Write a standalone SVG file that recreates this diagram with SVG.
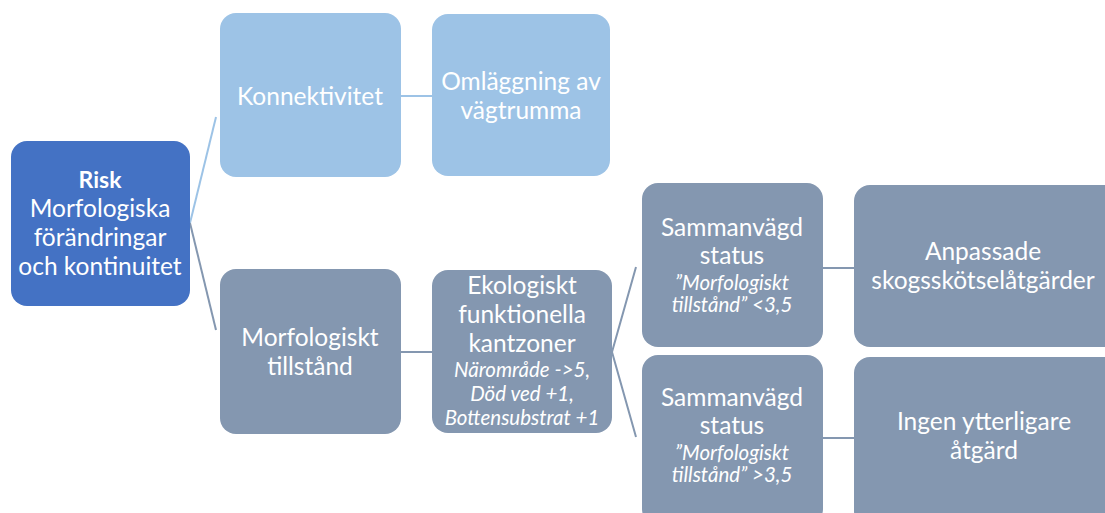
<svg xmlns="http://www.w3.org/2000/svg" width="1105" height="513" viewBox="0 0 1105 513">
<style>
.t{font-family:Lato,"Open Sans","Liberation Sans",sans-serif;fill:#fff;text-anchor:middle;font-size:24.5px}
.i{font-style:italic;font-size:20.5px}
.b{font-weight:bold}
.dark{fill:#4472C4}
.light{fill:#9DC3E6}
.gray{fill:#8497B0}
.cl{stroke:#9DC3E6;stroke-width:2;fill:none}
.cg{stroke:#8497B0;stroke-width:2;fill:none}
</style>
<rect width="1105" height="513" fill="#fff"/>
<g id="connectors">
<polyline class="cl" points="216,117 190,223"/>
<polyline class="cg" points="190,223 216,330"/>
<line class="cl" x1="401" y1="96" x2="432" y2="96"/>
<line class="cg" x1="401" y1="352" x2="432" y2="352"/>
<polyline class="cg" points="636,267 612,352 636,437"/>
<line class="cg" x1="823" y1="268" x2="854" y2="268"/>
<line class="cg" x1="823" y1="438" x2="854" y2="438"/>
</g>
<g id="risk">
<rect class="dark" x="11" y="141" width="179" height="165" rx="16"/>
<text class="t"><tspan class="b" x="100" y="188" font-size="23">Risk</tspan><tspan x="100" y="217">Morfologiska</tspan><tspan x="100" y="246">förändringar</tspan><tspan x="100" y="275">och kontinuitet</tspan></text>
</g>
<g id="konnektivitet">
<rect class="light" x="220" y="13" width="181" height="164" rx="16"/>
<text class="t" x="310" y="105">Konnektivitet</text>
</g>
<g id="omlaggning">
<rect class="light" x="432" y="14" width="178" height="162" rx="16"/>
<text class="t"><tspan x="521" y="90">Omläggning av</tspan><tspan x="521" y="119">vägtrumma</tspan></text>
</g>
<g id="morfologiskt">
<rect class="gray" x="220" y="269" width="181" height="165" rx="16"/>
<text class="t"><tspan x="310" y="346">Morfologiskt</tspan><tspan x="310" y="375">tillstånd</tspan></text>
</g>
<g id="ekologiskt">
<rect class="gray" x="432" y="270" width="180" height="163" rx="16"/>
<text class="t"><tspan x="522" y="294">Ekologiskt</tspan><tspan x="522" y="323">funktionella</tspan><tspan x="522" y="352">kantzoner</tspan><tspan class="i" x="522" y="377">Närområde -&gt;5,</tspan><tspan class="i" x="522" y="401">Död ved +1,</tspan><tspan class="i" x="522" y="425">Bottensubstrat +1</tspan></text>
</g>
<g id="sammanvagd1">
<rect class="gray" x="642" y="183" width="181" height="164" rx="16"/>
<text class="t"><tspan x="732" y="236">Sammanvägd</tspan><tspan x="732" y="264">status</tspan><tspan class="i" x="732" y="290">”Morfologiskt</tspan><tspan class="i" x="732" y="312">tillstånd” &lt;3,5</tspan></text>
</g>
<g id="sammanvagd2">
<rect class="gray" x="642" y="355" width="181" height="170" rx="16"/>
<text class="t"><tspan x="732" y="406">Sammanvägd</tspan><tspan x="732" y="434">status</tspan><tspan class="i" x="732" y="460">”Morfologiskt</tspan><tspan class="i" x="732" y="482">tillstånd” &gt;3,5</tspan></text>
</g>
<g id="anpassade">
<rect class="gray" x="854" y="185" width="270" height="162" rx="16"/>
<text class="t"><tspan x="983" y="260">Anpassade</tspan><tspan x="983" y="289">skogsskötselåtgärder</tspan></text>
</g>
<g id="ingen">
<rect class="gray" x="854" y="357" width="270" height="170" rx="16"/>
<text class="t"><tspan x="984" y="430">Ingen ytterligare</tspan><tspan x="984" y="459">åtgärd</tspan></text>
</g>
</svg>
